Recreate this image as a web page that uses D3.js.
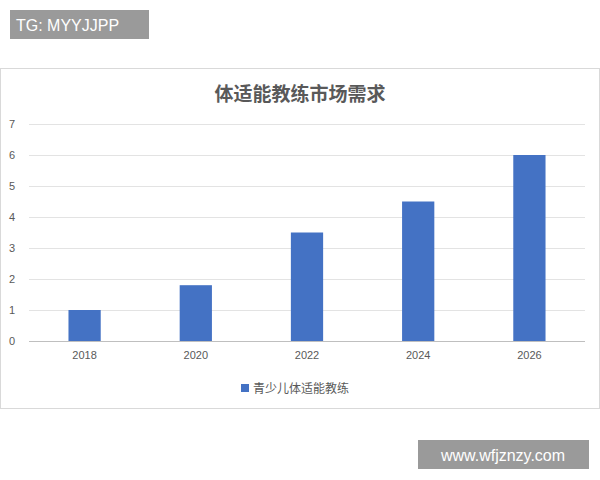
<!DOCTYPE html>
<html><head><meta charset="utf-8">
<script src="https://cdn.jsdelivr.net/npm/d3@7/dist/d3.min.js"></script>
<style>body{margin:0;background:#fff}</style>
</head><body>
<script>
var years = ["2018", "2020", "2022", "2024", "2026"];
var values = [1, 1.8, 3.5, 4.5, 6];
var yTicks = [0, 1, 2, 3, 4, 5, 6, 7];
var title = "体适能教练市场需求";
var seriesName = "青少儿体适能教练";

var svg = d3.select("body").append("svg").attr("width", 600).attr("height", 480);

// watermark boxes
svg.append("rect").attr("x", 10).attr("y", 10).attr("width", 139).attr("height", 29).attr("fill", "#9a9a9a");
svg.append("text").attr("x", 16).attr("y", 31).attr("fill", "#fff")
  .style("font", "16px 'Liberation Sans', Arial").text("TG: MYYJJPP");

// chart frame
svg.append("rect").attr("x", 0.5).attr("y", 68.5).attr("width", 599).attr("height", 340)
  .attr("fill", "#fff").attr("stroke", "#d9d9d9");

svg.append("text").attr("x", 300).attr("y", 101).attr("text-anchor", "middle")
  .attr("fill", "#595959").style("font", "bold 19px 'Noto Sans CJK SC'").text(title);

var x = d3.scaleBand().domain(years).range([29, 585]).paddingInner(0.71).paddingOuter(0.355);
var y = d3.scaleLinear().domain([0, 7]).range([341, 124]);

var g = svg.append("g");
g.selectAll("line.grid").data(yTicks).enter().append("line")
  .attr("x1", 29).attr("x2", 585).attr("y1", d => y(d) + 0.5).attr("y2", d => y(d) + 0.5)
  .attr("stroke", d => d === 0 ? "#bfbfbf" : "#e3e3e3");

var yAxis = svg.append("g").attr("transform", "translate(18,0)")
  .call(d3.axisLeft(y).tickValues(yTicks).tickSize(0).tickFormat(d3.format("d")));
yAxis.select(".domain").remove();
yAxis.selectAll("text").attr("fill", "#595959").style("font", "11px 'Liberation Sans', Arial");

var xAxis = svg.append("g").attr("transform", "translate(0,348)")
  .call(d3.axisBottom(x).tickSize(0));
xAxis.select(".domain").remove();
xAxis.selectAll("text").attr("fill", "#595959").style("font", "11px 'Liberation Sans', Arial");

svg.selectAll("rect.bar").data(values).enter().append("rect").attr("class", "bar")
  .attr("x", (d, i) => x(years[i])).attr("width", x.bandwidth())
  .attr("y", d => y(d)).attr("height", d => y(0) - y(d))
  .attr("fill", "#4472c4");

// legend
svg.append("rect").attr("x", 241).attr("y", 384).attr("width", 8).attr("height", 8).attr("fill", "#4472c4");
svg.append("text").attr("x", 253).attr("y", 393).attr("fill", "#595959")
  .style("font", "12px 'Noto Sans CJK SC'").text(seriesName);

svg.append("rect").attr("x", 418).attr("y", 440).attr("width", 171).attr("height", 29).attr("fill", "#9a9a9a");
svg.append("text").attr("x", 503).attr("y", 461).attr("text-anchor", "middle").attr("fill", "#fff")
  .style("font", "16px 'Liberation Sans', Arial").text("www.wfjznzy.com");
</script>
</body></html>
